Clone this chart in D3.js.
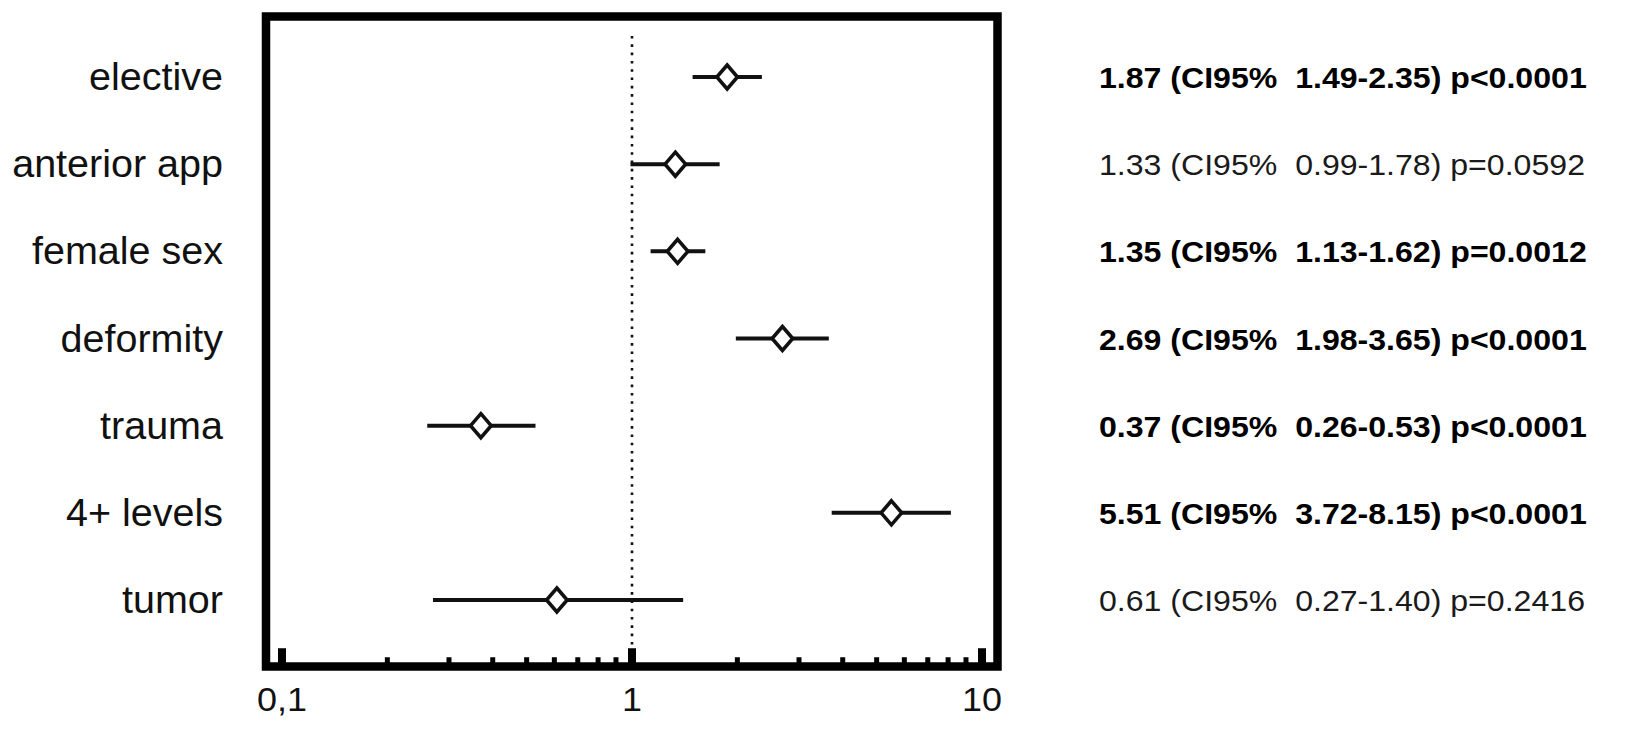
<!DOCTYPE html>
<html>
<head>
<meta charset="utf-8">
<script src="https://cdn.jsdelivr.net/npm/d3@7"></script>
<style>
  html, body { margin: 0; padding: 0; background: #fff; }
  svg text { font-family: "Liberation Sans", Arial, sans-serif; white-space: pre; }
</style>
</head>
<body>
<svg id="chart" width="1630" height="732"></svg>
<script>
const categories = ["elective", "anterior app", "female sex", "deformity", "trauma", "4+ levels", "tumor"];
const oddsRatio = [1.87, 1.33, 1.35, 2.69, 0.37, 5.51, 0.61];
const ciLow = [1.49, 0.99, 1.13, 1.98, 0.26, 3.72, 0.27];
const ciHigh = [2.35, 1.78, 1.62, 3.65, 0.53, 8.15, 1.40];
const pValues = ["p<0.0001", "p=0.0592", "p=0.0012", "p<0.0001", "p<0.0001", "p<0.0001", "p=0.2416"];
const significant = [true, false, true, true, true, true, false];
const tickValues = [0.1, 1, 10];
const tickLabels = ["0,1", "1", "10"];

const svg = d3.select("#chart");
svg.append("rect").attr("width", 1630).attr("height", 732).attr("fill", "#fff");

const x = d3.scaleLog().domain([0.1, 10]).range([282, 982]);
const y = d3.scalePoint().domain(categories).range([77, 600]);

const frameLeft = x(0.1) - 16, frameRight = x(10) + 15.5;
const frameTop = 16.5, frameBottom = 666.5;
const innerBottom = frameBottom - 4.25;

// dotted reference line at 1
svg.append("line")
  .attr("x1", x(1)).attr("x2", x(1))
  .attr("y1", 36).attr("y2", innerBottom - 14)
  .attr("stroke", "#111").attr("stroke-width", 2.6)
  .attr("stroke-dasharray", "2.6 5.7");

// ticks (inward from bottom)
const allTicks = x.ticks();
svg.append("g").selectAll("rect")
  .data(allTicks)
  .join("rect")
  .attr("x", d => x(d) - (tickValues.includes(d) ? 4 : 2.5))
  .attr("width", d => tickValues.includes(d) ? 8 : 5)
  .attr("y", d => innerBottom - (tickValues.includes(d) ? 14 : 5))
  .attr("height", d => tickValues.includes(d) ? 15 : 6)
  .attr("fill", "#000");

// frame
svg.append("rect")
  .attr("x", frameLeft).attr("y", frameTop)
  .attr("width", frameRight - frameLeft).attr("height", frameBottom - frameTop)
  .attr("fill", "none").attr("stroke", "#000").attr("stroke-width", 8.5);

// tick labels (slightly wide glyphs, as in the reference)
svg.append("g").selectAll("text")
  .data(tickValues)
  .join("text")
  .attr("transform", d => `translate(${x(d)},711) scale(1.09,1)`)
  .attr("text-anchor", "middle")
  .attr("font-size", 33)
  .attr("fill", "#111")
  .text((d, i) => tickLabels[i]);

const rows = categories.map((c, i) => ({
  c, or: oddsRatio[i], lo: ciLow[i], hi: ciHigh[i], p: pValues[i], sig: significant[i]
}));

// CI lines
svg.append("g").selectAll("line")
  .data(rows)
  .join("line")
  .attr("x1", d => x(d.lo)).attr("x2", d => x(d.hi))
  .attr("y1", d => y(d.c)).attr("y2", d => y(d.c))
  .attr("stroke", "#111").attr("stroke-width", 4);

// diamonds
const hw = 10.3, hh = 12;
svg.append("g").selectAll("path")
  .data(rows)
  .join("path")
  .attr("transform", d => `translate(${x(d.or)},${y(d.c)})`)
  .attr("d", `M0,${-hh}L${hw},0L0,${hh}L${-hw},0Z`)
  .attr("fill", "#fff").attr("stroke", "#111").attr("stroke-width", 3.6)
  .attr("stroke-linejoin", "miter");

// category labels
svg.append("g").selectAll("text")
  .data(rows)
  .join("text")
  .attr("transform", d => `translate(223,${y(d.c) + 13}) scale(1.04,1)`)
  .attr("text-anchor", "end")
  .attr("font-size", 38)
  .attr("fill", "#111")
  .text(d => d.c);

// result text
svg.append("g").selectAll("text")
  .data(rows)
  .join("text")
  .attr("transform", d => `translate(1099,${y(d.c) + 11}) scale(1.07,1)`)
  .attr("font-size", 30)
  .attr("font-weight", d => d.sig ? "bold" : "normal")
  .attr("fill", d => d.sig ? "#000" : "#1a1a1a")
  .text(d => `${d.or.toFixed(2)} (CI95%  ${d.lo.toFixed(2)}-${d.hi.toFixed(2)}) ${d.p}`);
</script>
</body>
</html>
